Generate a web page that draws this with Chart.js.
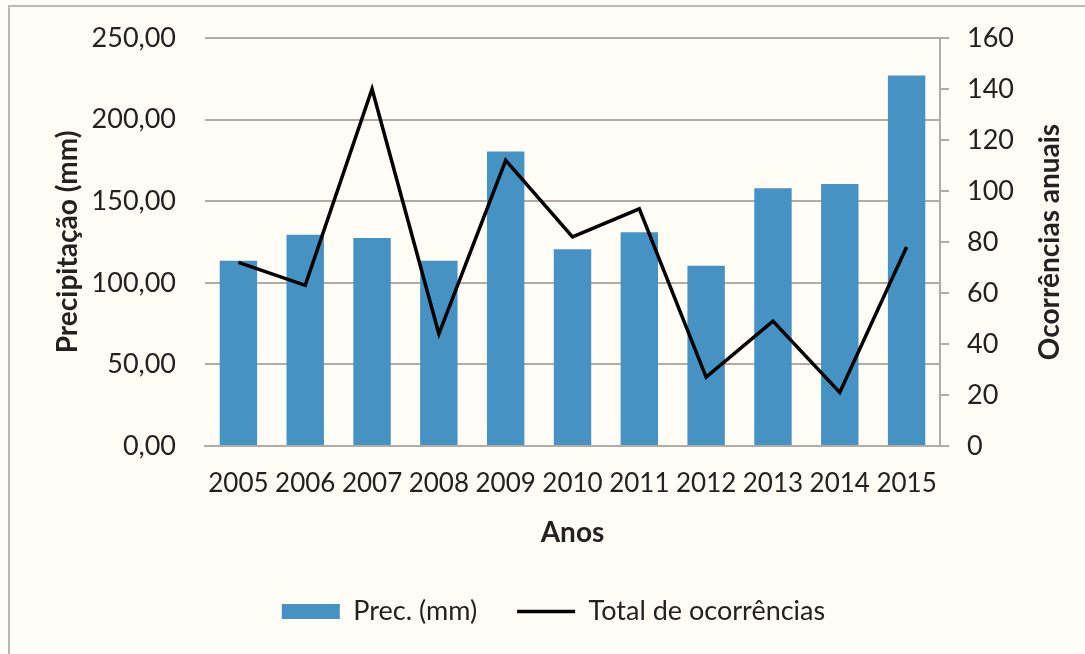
<!DOCTYPE html>
<html>
<head>
<meta charset="utf-8">
<script src="https://cdn.jsdelivr.net/npm/chart.js@4"></script>
<style>
    body { margin: 0; background: #fffdf6; }
    #wrap { position: relative; width: 1085px; height: 654px; background: #fffdf6; overflow: hidden; }
    #frame { position: absolute; left: 8px; top: 5px; width: 1200px; height: 800px; border-top: 2px solid #bdb8b2; border-left: 2px solid #bdb8b2; }
    canvas { position: absolute; left: 0; top: 0; }
</style>
</head>
<body>
<div id="wrap">
    <div id="frame"></div>
    <canvas id="chart" width="1085" height="654"></canvas>
</div>
<script>
// data
var anos = ['2005', '2006', '2007', '2008', '2009', '2010', '2011', '2012', '2013', '2014', '2015'];
var precipitacao = [113.5, 129.5, 127.5, 113.5, 180.5, 120.5, 131, 110.5, 158, 160.5, 227];
var ocorrencias = [72, 63, 140, 44, 112, 82, 93, 27, 49, 21, 78];
var ticksPrec = [0, 50, 100, 150, 200, 250];
var ticksOcorr = [0, 20, 40, 60, 80, 100, 120, 140, 160];

var textColor = '#222222';
var gridColor = '#b3aba4';

// right axis title reads bottom-to-top like the left one
var rightTitle = {
    id: 'rightTitle',
    afterDraw: function (chart) {
        var ctx = chart.ctx;
        var area = chart.chartArea;
        ctx.save();
        ctx.translate(1050, (area.top + area.bottom) / 2);
        ctx.rotate(-Math.PI / 2);
        ctx.font = 'bold 28px Lato';
        ctx.fillStyle = textColor;
        ctx.textAlign = 'center';
        ctx.textBaseline = 'middle';
        ctx.fillText('Ocorrências anuais', 0, 0);
        ctx.restore();
    }
};

var ctx = document.getElementById('chart').getContext('2d');
var chart = new Chart(ctx, {
    type: 'bar',
    data: {
        labels: anos,
        datasets: [{
            type: 'bar',
            label: 'Prec. (mm)',
            data: precipitacao,
            backgroundColor: '#4592c3',
            borderWidth: 0,
            yAxisID: 'y',
            order: 2,
            pointStyle: 'rect',
            categoryPercentage: 1,
            barPercentage: 0.56
        }, {
            type: 'line',
            label: 'Total de ocorrências',
            data: ocorrencias,
            borderColor: '#000000',
            backgroundColor: '#000000',
            borderWidth: 3.5,
            pointRadius: 0,
            pointStyle: 'line',
            tension: 0,
            yAxisID: 'y1',
            order: 1
        }]
    },
    options: {
        responsive: false,
        animation: false,
        layout: { padding: { left: 22, right: 0, top: 38, bottom: 19 } },
        plugins: {
            tooltip: { enabled: false },
            legend: {
                position: 'bottom',
                labels: {
                    usePointStyle: true,
                    pointStyleWidth: 58,
                    boxHeight: 15,
                    padding: 40,
                    color: textColor,
                    font: { family: 'Lato', size: 27 },
                    sort: function (a, b) { return a.datasetIndex - b.datasetIndex; }
                }
            }
        },
        scales: {
            x: {
                grid: { display: false, drawTicks: false },
                border: { display: true, color: gridColor, width: 2 },
                ticks: { color: textColor, font: { family: 'Lato', size: 26 }, padding: 22, maxRotation: 0, autoSkip: false },
                title: {
                    display: true, text: 'Anos', color: textColor,
                    font: { family: 'Lato', size: 28, weight: 'bold' },
                    padding: { top: 8, bottom: 8 }
                },
                afterFit: function (scale) { scale.height = 112; }
            },
            y: {
                position: 'left',
                min: 0,
                max: 250,
                // invisible tick marks push the labels away from the plot
                grid: { color: gridColor, lineWidth: 2, drawTicks: true, tickLength: 24, tickColor: 'rgba(0,0,0,0)' },
                border: { display: false },
                afterBuildTicks: function (scale) {
                    scale.ticks = ticksPrec.map(function (v) { return { value: v }; });
                },
                ticks: {
                    color: textColor,
                    font: { family: 'Lato', size: 27 },
                    padding: 5,
                    callback: function (v) { return Number(v).toFixed(2).replace('.', ','); }
                },
                title: {
                    display: true, text: 'Precipitação (mm)', color: textColor,
                    font: { family: 'Lato', size: 28, weight: 'bold' },
                    padding: { top: 29, bottom: 29 }
                },
                afterFit: function (scale) { scale.width = 183; }
            },
            y1: {
                position: 'right',
                min: 0,
                max: 160,
                grid: { drawOnChartArea: false, drawTicks: true, tickLength: 9, color: gridColor, lineWidth: 2 },
                border: { display: true, color: gridColor, width: 2 },
                afterBuildTicks: function (scale) {
                    scale.ticks = ticksOcorr.map(function (v) { return { value: v }; });
                },
                ticks: { color: textColor, font: { family: 'Lato', size: 27 }, padding: 18 },
                afterFit: function (scale) { scale.width = 145; }
            }
        }
    },
    plugins: [rightTitle]
});
</script>
</body>
</html>
